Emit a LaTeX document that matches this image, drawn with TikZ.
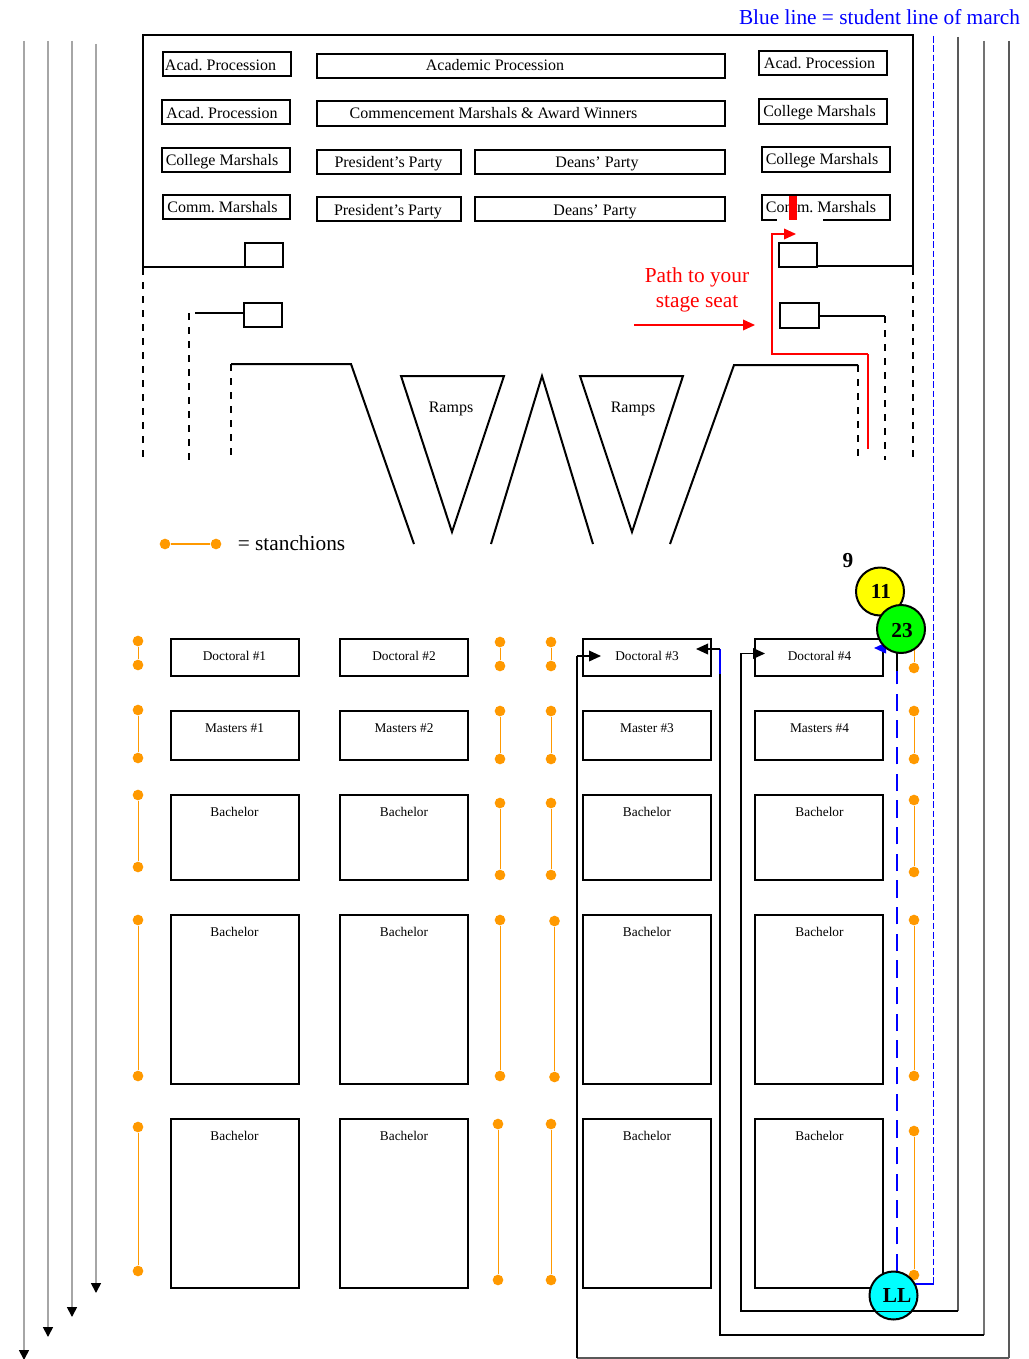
\documentclass[tikz,border=0pt]{standalone}
\usepackage{fontspec}
\setmainfont{Liberation Serif}
\usetikzlibrary{arrows.meta}
\definecolor{stanorange}{HTML}{FF9900}
\definecolor{llcyan}{HTML}{00FFFF}
\definecolor{purelime}{HTML}{00FF00}
\definecolor{pureyellow}{HTML}{FFFF00}
\definecolor{pureblue}{HTML}{0000FF}
\frenchspacing
\tikzset{
  wall/.style={draw=black, line width=1.5pt},
  dashwall/.style={draw=black, line width=1.5pt, dash pattern=on 5.5pt off 5pt},
  boxnode/.style={draw=black, line width=1.5pt, inner sep=0pt, fill=white},
  boxtext/.style={anchor=base, inner sep=0pt, font=\fontsize{12}{14}\selectfont},
  seattext/.style={anchor=base, inner sep=0pt, font=\fontsize{10}{12}\selectfont},
  bigtext/.style={anchor=base, inner sep=0pt, font=\fontsize{16}{18}\selectfont},
  numtext/.style={anchor=base, inner sep=0pt, font=\bfseries\fontsize{16}{18}\selectfont},
  circ/.style={circle, draw=black, line width=1.5pt, minimum size=36pt, inner sep=0pt},
  dot/.style={circle, fill=stanorange, inner sep=0pt, minimum size=8pt},
  tip/.style={-{Triangle[length=9pt,width=8pt]}},
  aisle/.style={draw=black!35, line width=1.3pt, -{Triangle[length=7.5pt,width=7.5pt,black]}},
}
\begin{document}
\begin{tikzpicture}[x=0.75pt,y=-0.75pt]
	\useasboundingbox[fill=white] (0,0) rectangle (1028,1359);

	% outside aisles
	\foreach \i/\x/\ya/\yb in {a/24/41/1360, b/48/41/1337, c/72/41/1317, d/96/44/1293} {
		\coordinate (top\i) at (\x,\ya);
		\coordinate (end\i) at (\x,\yb);
		\draw[aisle] (top\i) -- (end\i);
	}

	% stage
	\draw[wall] (143,268) -- (143,35) -- (913,35) -- (913,268);
	\draw[wall, line width=1.3pt] (143,267) -- (245,267);
	\draw[wall, line width=1.3pt] (817,266) -- (913,266);
	\draw[wall, line width=1.3pt] (195,313) -- (244,313);
	\draw[wall, line width=1.3pt] (819,316) -- (885,316);
	\foreach \x/\ya/\yb in {143/268/457, 913/268/457, 189/313/460, 885/316/460, 231/364/458, 858/365/458}
		\draw[dashwall] (\x,\ya) -- (\x,\yb);
	\draw[wall] (231,364) -- (351,364) -- (414,544);
	\draw[wall] (858,365) -- (734,365) -- (670,544);
	\draw[wall] (401,376) -- (504,376) -- (452,532) -- cycle;
	\draw[wall] (580,376) -- (683,376) -- (632,532) -- cycle;
	\draw[wall] (491,544) -- (542,376) -- (593,544);
	\node[boxtext] (rampa) at (451,412) {Ramps};
	\node[boxtext] (rampb) at (633,412) {Ramps};

	% stage seats
	\foreach \name/\xa/\ya/\xb/\yb/\tx/\ty/\txt in {
		la/163/52/291/76/220.5/71/Acad. Procession,
		lb/162/100/290/124/222/119/Acad. Procession,
		lc/162/148/290/172/222/166/College Marshals,
		ld/163/195/290/219/222.5/212/Comm. Marshals,
		ca/317/54/725/78/495/71/Academic Procession,
		cb/317/101/725/126/493.5/119/Commencement Marshals \& Award Winners,
		cc/317/150/461/174/388.5/167/President’s Party,
		cd/475/150/725/174/597/167/Deans’ Party,
		ce/317/197/461/221/388/215/President’s Party,
		cf/475/197/725/221/595/215/Deans’ Party,
		ra/759/51/887/75/819.5/69/Acad. Procession,
		rb/759/99/887/124/819.5/117/College Marshals,
		rc/762/147/890/172/822/165/College Marshals,
		rd/762/195/890/220/821/212/Comm. Marshals} {
		\node[boxnode, minimum width={(\xb-\xa)*0.75pt}, minimum height={(\yb-\ya)*0.75pt}] (\name) at ({(\xa+\xb)/2},{(\ya+\yb)/2}) {};
		\node[boxtext] (\name-t) at (\tx,\ty) {\txt};
	}
	\foreach \name/\xa/\ya/\xb/\yb in {sa/245/243/283/267, sb/779/243/817/267, sc/244/303/282/327, sd/780/303/819/328}
		\node[boxnode, line width=1.3pt, minimum width={(\xb-\xa)*0.75pt}, minimum height={(\yb-\ya)*0.75pt}] (\name) at ({(\xa+\xb)/2},{(\ya+\yb)/2}) {};

	% door in the last marshal box
	\draw[black, line width=0.8pt] (777,195) -- (826,195);
	\draw[white, line width=1.5pt] (777,220) -- (823,220);
	\fill[red] (789,196) rectangle (797,220);

	% path to seat
	\node[bigtext, red] (patha) at (697,282) {Path to your};
	\node[bigtext, red] (pathb) at (697,307) {stage seat};
	\coordinate (patht) at (634,325);
	\coordinate (pathh) at (755,325);
	\draw[red, line width=1.1pt, tip] (patht) -- (pathh);
	\coordinate (reda) at (868,449);
	\coordinate (redb) at (796,234);
	\draw[red, line width=1.3pt] (reda) -- (868,354);
	\draw[red, line width=1.1pt, tip] (868,354) -- (772,354) -- (772,234) -- (redb);

	\node[bigtext, pureblue] (legend) at (879.5,25) {Blue line = student line of march};

	% legend for stanchions
	\node[dot] (lega) at (165,544) {};
	\node[dot] (legb) at (216,544) {};
	\draw[stanorange, line width=1pt] (lega) -- (legb);
	\node[bigtext] (legc) at (291.5,550) {= stanchions};

	% graduate seats
	\foreach \x/\xt/\col in {171/234.5/a, 340/404/b, 583/647/c, 755/819.5/d} {
		\foreach \ya/\yb/\ty/\row in {639/676/660/p, 711/760/732/q, 795/880/816/r, 915/1084/936/s, 1119/1288/1140/t} {
			\node[boxnode, minimum width=96pt, minimum height={(\yb-\ya)*0.75pt}] (\col\row) at (\x+64,{(\ya+\yb)/2}) {};
			\coordinate (\col\row-c) at (\xt,\ty);
		}
	}
	\foreach \name/\txt in {ap/Doctoral \#1, bp/Doctoral \#2, cp/Doctoral \#3, dp/Doctoral \#4,
		aq/Masters \#1, bq/Masters \#2, cq/Master \#3, dq/Masters \#4,
		ar/Bachelor, br/Bachelor, cr/Bachelor, dr/Bachelor,
		as/Bachelor, bs/Bachelor, cs/Bachelor, ds/Bachelor,
		at/Bachelor, bt/Bachelor, ct/Bachelor, dt/Bachelor}
		\node[seattext] (\name-t) at (\name-c) {\txt};

	% stanchions
	\foreach \i/\xa/\ya/\yb in {
		1/138/641/665, 2/138/710/758, 3/138/795/867, 4/138/920/1076, 5/138/1127/1271,
		6/500/642/666, 7/500/711/759, 8/500/803/875, 9/500/920/1076, 10/498/1124/1280,
		11/551/642/666, 12/551/711/759, 13/551/803/875, 14/554.5/921/1077, 15/551/1124/1280,
		16/914/644/668, 17/914/711/759, 18/914/800/872, 19/914/920/1076, 20/914/1131/1275} {
		\node[dot] (st\i a) at (\xa,\ya) {};
		\node[dot] (st\i b) at (\xa,\yb) {};
		\draw[stanorange, line width=0.6pt] (st\i a) -- (st\i b);
	}

	% lines of march
	\draw[draw=black!65, line width=1pt] (958,37) -- (958,1311);
	\draw[black, line width=1.3pt] (958,1311) -- (741,1311) -- (741,668);
	\draw[black, line width=1.1pt, tip] (741,668) -- (741,653.5) -- (765,653.5);
	\draw[draw=black!55, line width=1.2pt] (984,41) -- (984,1335);
	\draw[black, line width=1.5pt] (984,1335) -- (720,1335) -- (720,674);
	\draw[pureblue, line width=1.1pt] (720,674) -- (720,649);
	\draw[black, line width=1.1pt, tip] (720,649) -- (696,649);
	\draw[draw=black!65, line width=1pt] (1009,41) -- (1009,1358);
	\draw[draw=black!65, line width=1pt] (1009,1358) -- (577,1358);
	\draw[black, line width=1.3pt] (577,1358) -- (577,656);
	\draw[black, line width=1.1pt, tip] (577,656) -- (601,656);

	% student line
	\draw[pureblue, line width=0.9pt, dash pattern=on 5pt off 2pt] (933.5,36) -- (933.5,1284);
	\draw[pureblue, line width=1.3pt] (933.5,1284) -- (915,1284);
	\draw[pureblue, line width=1.6pt, dash pattern=on 13pt off 7pt] (897,1271) -- (897,671);
	\draw[black, line width=1.3pt] (897,671) -- (897,648);
	\draw[pureblue, line width=1.3pt, tip] (897,648) -- (874,648);

	% people
	\node[numtext] (nine) at (848,567) {9};
	\node[circ, fill=pureyellow] (cira) at (880,591.5) {};
	\node[numtext] (cirat) at (881,598) {11};
	\node[circ, fill=purelime] (cirb) at (901,629) {};
	\node[numtext] (cirbt) at (902,637) {23};
	\node[circ, fill=llcyan] (circ) at (893.5,1295.5) {};
	\node[numtext] (circt) at (897,1302) {LL};
	% seat row line shows through the LL circle
	\draw[black, line width=0.6pt] (873,1311) -- (914,1311);
\end{tikzpicture}
\end{document}
